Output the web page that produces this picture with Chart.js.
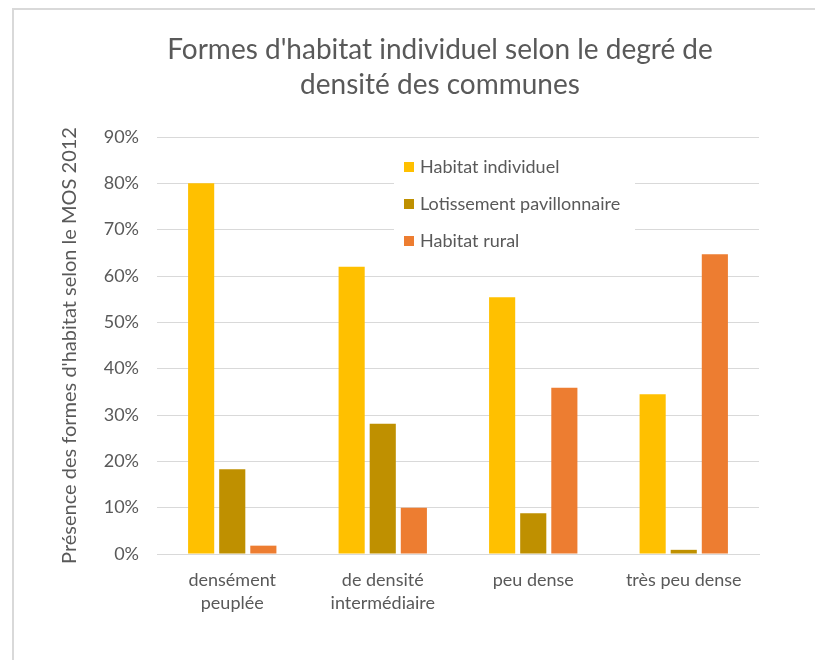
<!DOCTYPE html>
<html>
<head>
<meta charset="utf-8">
<script src="https://cdn.jsdelivr.net/npm/chart.js@4.4.1/dist/chart.umd.min.js"></script>
<style>
  html, body { margin: 0; padding: 0; background: #fff; }
  #wrap { position: relative; width: 815px; height: 660px; }
  #c { position: absolute; left: 0; top: 0; }
  .bt { position: absolute; left: 12px; top: 8px; width: 803px; height: 2px; background: #d9d9d9; }
  .bl { position: absolute; left: 12px; top: 8px; width: 2px; height: 652px; background: #d9d9d9; }
</style>
</head>
<body>
<div id="wrap">
  <canvas id="c" width="815" height="660"></canvas>
  <div class="bt"></div>
  <div class="bl"></div>
</div>
<script>
const titleLines = ["Formes d'habitat individuel selon le degré de", "densité des communes"];
const yAxisTitle = "Présence des formes d'habitat selon le MOS 2012";
const categories = [["densément", "peuplée"], ["de densité", "intermédiaire"], ["peu dense"], ["très peu dense"]];
const seriesNames = ["Habitat individuel", "Lotissement pavillonnaire", "Habitat rural"];
const habitatIndividuel = [80.0, 62.0, 55.4, 34.5];
const lotissementPavillonnaire = [18.3, 28.1, 8.8, 0.9];
const habitatRural = [1.8, 10.0, 35.9, 64.7];
const seriesColors = ["#FFC000", "#BF9000", "#ED7D31"];
const yTicks = [0, 10, 20, 30, 40, 50, 60, 70, 80, 90];

const FONT = "Lato, 'Open Sans', sans-serif";
const TEXT = "#595959";

const titlePlugin = {
  id: 'customTitle',
  afterDraw(chart) {
    const ctx = chart.ctx;
    ctx.save();
    ctx.fillStyle = TEXT;
    ctx.font = "28px " + FONT;
    ctx.textAlign = "center";
    ctx.textBaseline = "middle";
    ctx.fillText(titleLines[0], 440, 50);
    ctx.fillText(titleLines[1], 440, 85);
    ctx.restore();
  }
};

const legendPlugin = {
  id: 'insideLegend',
  afterDatasetsDraw(chart) {
    const ctx = chart.ctx;
    ctx.save();
    ctx.fillStyle = "#ffffff";
    ctx.fillRect(394, 141, 241, 117);
    ctx.font = "18px " + FONT;
    ctx.textAlign = "left";
    ctx.textBaseline = "middle";
    chart.data.datasets.forEach((ds, i) => {
      const cy = 167 + i * 37;
      ctx.fillStyle = ds.backgroundColor;
      ctx.fillRect(404, cy - 5, 10, 10);
      ctx.fillStyle = TEXT;
      ctx.fillText(ds.label, 420, cy);
    });
    ctx.restore();
  }
};

new Chart(document.getElementById('c'), {
  type: 'bar',
  data: {
    labels: categories,
    datasets: [
      { label: seriesNames[0], data: habitatIndividuel, backgroundColor: seriesColors[0] },
      { label: seriesNames[1], data: lotissementPavillonnaire, backgroundColor: seriesColors[1] },
      { label: seriesNames[2], data: habitatRural, backgroundColor: seriesColors[2] }
    ]
  },
  options: {
    responsive: false,
    animation: false,
    devicePixelRatio: 1,
    layout: { padding: { top: 137, left: 55, right: 56, bottom: 20 } },
    datasets: { bar: { categoryPercentage: 0.62, barPercentage: 0.84 } },
    plugins: {
      legend: { display: false },
      title: { display: false },
      tooltip: { enabled: false }
    },
    scales: {
      x: {
        grid: { display: false, drawTicks: false },
        border: { display: true, color: "#d9d9d9", width: 1 },
        ticks: { color: TEXT, font: { family: FONT, size: 18, lineHeight: 1.3 }, padding: 14, maxRotation: 0, autoSkip: false },
        afterFit(scale) { scale.height = 86; }
      },
      y: {
        min: 0, max: 90,
        afterBuildTicks(scale) { scale.ticks = yTicks.map(v => ({ value: v })); },
        grid: { color: "#d9d9d9", lineWidth: 1, drawTicks: false },
        border: { display: false },
        ticks: { color: TEXT, font: { family: FONT, size: 18 }, padding: 18, callback: v => v + "%" },
        title: { display: true, text: yAxisTitle, color: TEXT, font: { family: FONT, size: 20 }, padding: { top: 3, bottom: 0 } },
        afterFit(scale) { scale.width = 102; }
      }
    }
  },
  plugins: [titlePlugin, legendPlugin]
});
</script>
</body>
</html>
